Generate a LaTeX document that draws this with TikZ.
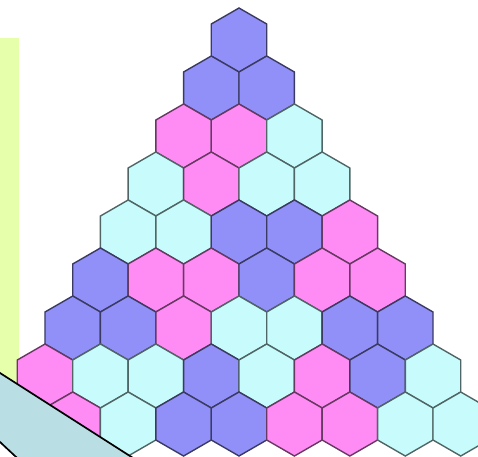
\documentclass[tikz,border=0pt]{standalone}
\usetikzlibrary{shapes.geometric}
\definecolor{hB}{HTML}{9090F8}
\definecolor{hP}{HTML}{FF8CF5}
\definecolor{hC}{HTML}{C8FCFC}
\definecolor{ylw}{HTML}{E6FFAA}
\definecolor{slate}{HTML}{B9DEE4}
\tikzset{
  hex/.style={regular polygon, regular polygon sides=6, shape border rotate=30,
    minimum size=64pt, inner sep=0pt, outer sep=0pt, line width=1.4pt,
    fill=h#1, draw=h#1!40!black},
  edgeline/.style={draw=black, line width=1.7pt},
}
\begin{document}
\begin{tikzpicture}[x=1pt,y=-1pt]
\useasboundingbox (0,0) rectangle (478,456);
\clip (0,0) rectangle (478,456);
\fill[ylw] (0,38) rectangle (19,420);
\foreach \row [count=\r] in {{B},{B,B},{P,P,C},{C,P,C,C},{C,C,B,B,P},{B,P,P,B,P,P},{B,B,P,C,C,B,B},{P,C,C,B,C,P,B,C}} {
  \foreach \c [count=\j] in \row {
    \node[hex=\c] (h-\r-\j) at ({239+(\j-(\r+1)/2)*55.43},{40+(\r-1)*48}) {};
  }
}
\foreach \c [count=\j from 2] in {P,C,B,B,P,P,C,C} {
  \node[hex=\c] (h-9-\j) at ({239+(\j-5)*55.43},{424}) {};
}
\coordinate (g1) at (-20,360.2);
\coordinate (g2) at (150,468.8);
\coordinate (g3) at (30,470);
\coordinate (g4) at (-20,423.3);
\fill[slate] (g1) -- (g2) -- (g3) -- (g4) -- cycle;
\draw[edgeline] (g1) -- (g2);
\draw[edgeline] (g4) -- (g3);
\end{tikzpicture}
\end{document}
